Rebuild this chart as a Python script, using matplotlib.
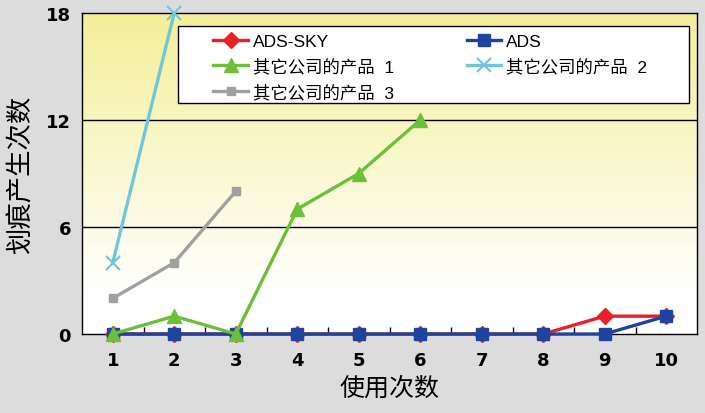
import matplotlib.pyplot as plt
import numpy as np
from matplotlib.colors import LinearSegmentedColormap
from matplotlib.patches import Rectangle

plt.rcParams['font.family'] = ['Noto Sans CJK SC', 'DejaVu Sans']

# data
uses = [1, 2, 3, 4, 5, 6, 7, 8, 9, 10]
ads_sky = [0, 0, 0, 0, 0, 0, 0, 0, 1, 1]
ads = [0, 0, 0, 0, 0, 0, 0, 0, 0, 1]
other1_x = [1, 2, 3, 4, 5, 6]
other1 = [0, 1, 0, 7, 9, 12]
other2_x = [1, 2]
other2 = [4, 18]
other3_x = [1, 2, 3]
other3 = [2, 4, 8]

labels = ['ADS-SKY', 'ADS', '其它公司的产品  1', '其它公司的产品  2', '其它公司的产品  3']

fig = plt.figure(figsize=(7.05, 4.14), dpi=100, facecolor='#dcdcdc')
ax = fig.add_axes([82/705, 1-335/414, 615/705, 321/414])

# yellow-to-white background
cmap = LinearSegmentedColormap.from_list('bg', [(0, '#ffffff'), (0.12, '#ffffff'), (1, '#f4ef98')])
grad = np.linspace(0, 1, 256).reshape(-1, 1)
ax.imshow(grad, cmap=cmap, aspect='auto', origin='lower',
          extent=[0, 1, 0, 1], transform=ax.transAxes, zorder=0)

ax.axhline(6, color='black', lw=1, zorder=1)
ax.axhline(12, color='black', lw=1, zorder=1)

lw = 2.4
h1, = ax.plot(uses, ads_sky, color='#e82128', lw=lw, marker='D', ms=8, zorder=3, clip_on=False)
h2, = ax.plot(uses, ads, color='#1f44a0', lw=lw, marker='s', ms=8, zorder=4, clip_on=False)
h3, = ax.plot(other1_x, other1, color='#6cbf3a', lw=lw, marker='^', ms=10, zorder=5, clip_on=False)
h4, = ax.plot(other2_x, other2, color='#72c6da', lw=lw, marker='x', ms=10, mew=1.5, zorder=5, clip_on=False)
h5, = ax.plot(other3_x, other3, color='#a0a0a0', lw=lw, marker='s', ms=6, zorder=5, clip_on=False)

ax.set_xlim(0.5, 10.5)
ax.set_ylim(0, 18)
ax.set_yticks([0, 6, 12, 18])
ax.set_xticks(uses)
ax.set_xticks(np.arange(1.5, 10.5, 1), minor=True)
ax.tick_params(axis='x', which='major', length=0, pad=12)
ax.tick_params(axis='x', which='minor', length=5, direction='in', width=1)
ax.tick_params(axis='y', length=0, pad=8)
for t in ax.get_xticklabels() + ax.get_yticklabels():
    t.set_family('DejaVu Sans')
    t.set_fontweight('bold')
    t.set_fontsize(13)
for s in ax.spines.values():
    s.set_color('black')
    s.set_linewidth(1)

ax.set_xlabel('使用次数', fontsize=18, labelpad=4)
ax.set_ylabel('划痕产生次数', fontsize=19, labelpad=8)

# legend box drawn separately so the entries can sit inside it freely
box = Rectangle((96/615, 231/321), 511/615, 77/321, transform=ax.transAxes,
                facecolor='white', edgecolor='black', lw=1, zorder=8)
ax.add_patch(box)

# row-wise order in a 2-column legend
leg = ax.legend([h1, h3, h5, h2, h4], [labels[0], labels[2], labels[4], labels[1], labels[3]],
                loc='upper left', bbox_to_anchor=(128/615, 304/321),
                ncol=2, prop={'family': ['Liberation Sans', 'Noto Sans CJK SC'], 'size': 12.5},
                frameon=False, handlelength=2.0, borderpad=0.0, labelspacing=0.53,
                handletextpad=0.25, columnspacing=4.2, borderaxespad=0.2)
leg.set_zorder(9)

fig.savefig('out.png', dpi=100, facecolor=fig.get_facecolor())
